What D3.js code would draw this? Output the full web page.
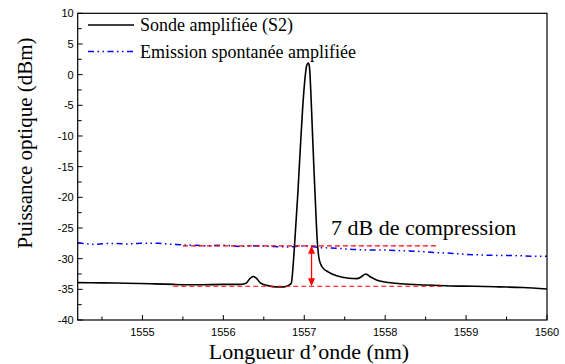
<!DOCTYPE html>
<html><head><meta charset="utf-8">
<script src="https://cdn.jsdelivr.net/npm/d3@7"></script>
<style>body{margin:0;background:#fff}svg{display:block}</style>
</head><body><svg id="c" width="565" height="364"></svg>
<script>
const xTicks = [1555, 1556, 1557, 1558, 1559, 1560];
const yTicks = [10, 5, 0, -5, -10, -15, -20, -25, -30, -35, -40];
const sondeWl = [1554.2,1554.5,1554.8,1555.1,1555.4,1555.7,1556.0,1556.2,1556.28,1556.33,1556.37,1556.41,1556.46,1556.55,1556.65,1556.75,1556.8,1556.84,1556.86,1556.88,1556.92,1556.95,1556.98,1557.01,1557.03,1557.05,1557.065,1557.08,1557.1,1557.12,1557.14,1557.16,1557.18,1557.2,1557.23,1557.3,1557.4,1557.55,1557.65,1557.7,1557.76,1557.82,1557.9,1558.0,1558.2,1558.5,1558.8,1559.1,1559.4,1559.7,1560.0];
const sondeDb = [-33.9,-33.95,-34.0,-34.1,-34.2,-34.25,-34.2,-34.2,-34.0,-33.2,-32.9,-33.2,-34.0,-34.4,-34.6,-34.6,-34.4,-34.0,-31.5,-27.8,-19.5,-12.3,-5.5,-0.5,1.5,1.9,1.2,-2.5,-9,-15.5,-21.5,-27.0,-29.8,-30.8,-31.5,-32.2,-32.8,-33.2,-33.25,-33.0,-32.5,-33.0,-33.5,-33.8,-34.1,-34.3,-34.45,-34.5,-34.6,-34.7,-34.95];
const aseWl = [1554.2,1554.4,1554.6,1554.8,1555.0,1555.2,1555.4,1555.6,1555.8,1556.0,1556.2,1556.4,1556.6,1556.8,1557.0,1557.2,1557.4,1557.6,1557.8,1558.0,1558.2,1558.4,1558.6,1558.8,1559.0,1559.2,1559.4,1559.6,1559.8,1560.0];
const aseDb = [-27.4,-27.7,-27.5,-27.6,-27.5,-27.5,-27.7,-27.8,-27.9,-27.8,-28.0,-27.9,-28.0,-28.1,-27.9,-28.2,-28.3,-28.5,-28.6,-28.6,-28.7,-28.8,-29.0,-29.1,-29.3,-29.4,-29.5,-29.5,-29.6,-29.6];
const refHigh = {x0: 1555.5, x1: 1558.64, y: -27.9};
const refLow = {x0: 1555.38, x1: 1558.71, y: -34.5};
const arrowWl = 1557.09;
const legendLabels = ["Sonde amplifiée (S2)", "Emission spontanée amplifiée"];

const SERIF = '"Liberation Serif"';
const SANS = '"Liberation Sans"';
const svg = d3.select("#c");
const L = 77.7, R = 547, T = 13.3, B = 320;
const x = d3.scaleLinear().domain([1554.2, 1560]).range([L, R]);
const y = d3.scaleLinear().domain([-40, 10]).range([B, T]);

const gx = svg.append("g");
d3.range(1554.5, 1560.01, 0.5).forEach(v => {
  const major = Math.abs(v - Math.round(v)) < 1e-6;
  gx.append("line").attr("x1", x(v)).attr("x2", x(v)).attr("y1", B).attr("y2", B - (major ? 5 : 3.5)).attr("stroke", "#000");
});
xTicks.forEach(v => gx.append("text").style("font-family", SANS).style("font-size", "11px")
  .attr("x", x(v)).attr("y", B + 16).attr("text-anchor", "middle").text(v));
const gy = svg.append("g");
d3.range(-40, 10.01, 2.5).forEach(v => {
  const major = Math.abs(v % 5) < 1e-6;
  gy.append("line").attr("x1", L).attr("x2", L + (major ? 5 : 4)).attr("y1", y(v)).attr("y2", y(v)).attr("stroke", "#000");
});
yTicks.forEach(v => gy.append("text").style("font-family", SANS).style("font-size", "11px")
  .attr("x", L - 4).attr("y", y(v) + 4).attr("text-anchor", "end").text(v));

const dashASE = "6,3.5,1.5,3.5,1.5,3.5";
svg.append("path").datum(aseWl.map((w, i) => [w, aseDb[i]]))
  .attr("d", d3.line().x(d => x(d[0])).y(d => y(d[1]))).attr("fill", "none").attr("stroke", "#0000ff")
  .attr("stroke-width", 1.5).attr("stroke-dasharray", dashASE);
svg.append("path").datum(sondeWl.map((w, i) => [w, sondeDb[i]]))
  .attr("d", d3.line().x(d => x(d[0])).y(d => y(d[1])).curve(d3.curveMonotoneX))
  .attr("fill", "none").attr("stroke", "#000").attr("stroke-width", 1.6);

[refHigh, refLow].forEach(r => svg.append("line").attr("x1", x(r.x0)).attr("x2", x(r.x1))
  .attr("y1", y(r.y)).attr("y2", y(r.y)).attr("stroke", "#ff0000").attr("stroke-width", 1.2).attr("stroke-dasharray", "5,3"));
const ax = x(arrowWl), ay0 = y(refHigh.y), ay1 = y(refLow.y);
svg.append("line").attr("x1", ax).attr("x2", ax).attr("y1", ay0 + 3).attr("y2", ay1 - 3).attr("stroke", "#ff0000").attr("stroke-width", 1.3);
svg.append("path").attr("d", `M${ax},${ay0} l-3.5,8 l7,0 Z M${ax},${ay1} l-3.5,-8 l7,0 Z`).attr("fill", "#ff0000");

svg.append("rect").attr("x", L).attr("y", T).attr("width", R - L).attr("height", B - T)
  .attr("fill", "none").attr("stroke", "#000").attr("stroke-width", 1.2);

svg.append("line").attr("x1", 88).attr("x2", 134).attr("y1", 25).attr("y2", 25).attr("stroke", "#000").attr("stroke-width", 1.6);
svg.append("line").attr("x1", 88).attr("x2", 134).attr("y1", 51.5).attr("y2", 51.5).attr("stroke", "#0000ff").attr("stroke-width", 1.5).attr("stroke-dasharray", dashASE);
const txt = (xx, yy, size, s, anchor) => svg.append("text").style("font-family", SERIF).style("font-size", size + "px")
  .attr("x", xx).attr("y", yy).attr("text-anchor", anchor || "start").text(s);
txt(140, 31, 18, legendLabels[0]);
txt(140, 57.5, 18, legendLabels[1]);
txt(331, 235, 22, "7 dB de compression");
txt(309, 359, 22, "Longueur d’onde (nm)", "middle");
txt(0, 0, 21, "Puissance optique (dBm)", "middle").attr("transform", "translate(32,143) rotate(-90)");
</script></body></html>
